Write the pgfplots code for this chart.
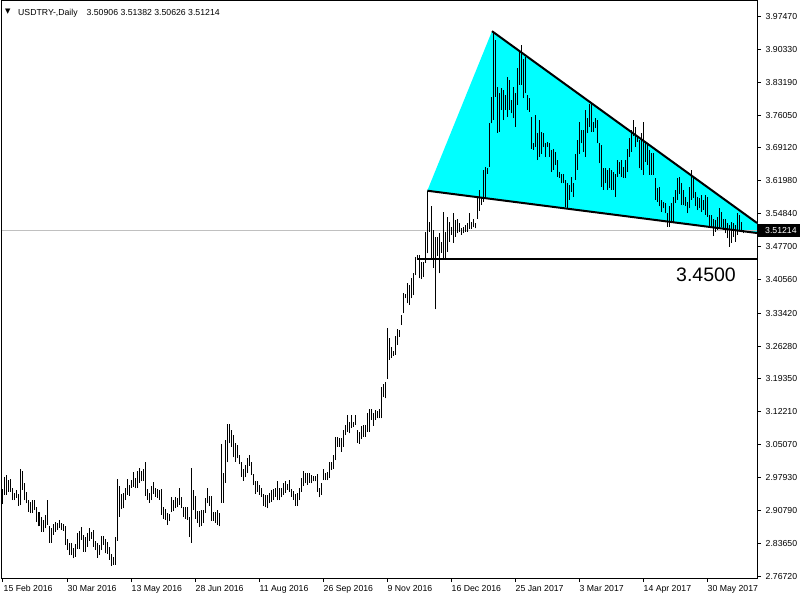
\documentclass[border=0pt]{standalone}
\usepackage{pgfplots}
\pgfplotsset{compat=1.18}
\usepackage{pgfplotstable}
\usepackage{fontspec}
\setmainfont{Liberation Sans}
\newfontfamily\dejavu{DejaVu Sans}
\definecolor{tri}{HTML}{00FFFF}
\definecolor{bidline}{HTML}{C0C0C0}

\pgfplotstableread{
i l h
0 2.922 2.954
1 2.942 2.980
2 2.942 2.984
3 2.949 2.974
4 2.949 2.976
5 2.931 2.958
6 2.931 2.947
7 2.935 2.953
8 2.918 2.943
9 2.920 2.999
10 2.953 2.994
11 2.931 2.967
12 2.924 2.948
13 2.906 2.932
14 2.902 2.927
15 2.904 2.931
16 2.909 2.931
17 2.884 2.917
18 2.874 2.906
19 2.863 2.894
20 2.863 2.888
21 2.870 2.899
22 2.877 2.931
23 2.839 2.875
24 2.839 2.870
25 2.856 2.879
26 2.863 2.884
27 2.866 2.881
28 2.870 2.889
29 2.866 2.882
30 2.865 2.879
31 2.834 2.876
32 2.823 2.846
33 2.812 2.839
34 2.812 2.838
35 2.805 2.827
36 2.809 2.836
37 2.825 2.859
38 2.825 2.864
39 2.845 2.872
40 2.820 2.856
41 2.820 2.852
42 2.830 2.859
43 2.843 2.870
44 2.848 2.863
45 2.830 2.866
46 2.823 2.843
47 2.807 2.839
48 2.812 2.834
49 2.823 2.853
50 2.834 2.853
51 2.816 2.848
52 2.815 2.841
53 2.802 2.830
54 2.789 2.815
55 2.791 2.809
56 2.791 2.852
57 2.843 2.976
58 2.895 2.961
59 2.911 2.945
60 2.913 2.947
61 2.931 2.958
62 2.942 2.976
63 2.940 2.963
64 2.958 2.974
65 2.960 2.992
66 2.956 2.978
67 2.958 2.994
68 2.968 3.001
69 2.971 2.994
70 2.973 2.998
71 2.940 3.013
72 2.932 2.954
73 2.925 2.947
74 2.931 2.961
75 2.944 2.969
76 2.938 2.958
77 2.935 2.955
78 2.932 2.953
79 2.899 2.954
80 2.891 2.915
81 2.889 2.911
82 2.877 2.902
83 2.886 2.901
84 2.906 2.937
85 2.907 2.932
86 2.913 2.937
87 2.915 2.935
88 2.920 2.956
89 2.913 2.938
90 2.894 2.915
91 2.891 2.915
92 2.888 2.915
93 2.851 2.894
94 2.839 3.001
95 2.909 2.953
96 2.891 2.940
97 2.882 2.907
98 2.872 2.907
99 2.875 2.909
100 2.881 2.909
101 2.904 2.935
102 2.924 2.956
103 2.918 2.940
104 2.886 2.940
105 2.886 2.906
106 2.882 2.906
107 2.877 2.909
108 2.874 2.902
109 2.925 3.052
110 2.925 2.989
111 2.968 3.060
112 3.012 3.096
113 3.053 3.095
114 3.046 3.082
115 3.023 3.071
116 3.014 3.053
117 3.021 3.050
118 3.008 3.028
119 2.981 3.012
120 2.973 2.997
121 2.980 3.007
122 2.989 3.021
123 3.005 3.028
124 2.985 3.014
125 2.963 2.987
126 2.945 2.971
127 2.949 2.972
128 2.942 2.963
129 2.938 2.956
130 2.918 2.945
131 2.915 2.942
132 2.913 2.942
133 2.924 2.947
134 2.927 2.953
135 2.931 2.954
136 2.938 2.958
137 2.931 2.971
138 2.931 2.956
139 2.937 2.958
140 2.942 2.967
141 2.947 2.971
142 2.953 2.965
143 2.949 2.974
144 2.938 2.954
145 2.932 2.951
146 2.918 2.945
147 2.918 2.947
148 2.931 2.958
149 2.949 2.978
150 2.961 2.994
151 2.967 2.990
152 2.963 2.990
153 2.968 2.990
154 2.967 2.985
155 2.971 2.983
156 2.971 2.983
157 2.949 2.987
158 2.937 2.958
159 2.942 2.968
160 2.974 2.999
161 2.974 2.989
162 2.974 2.992
163 2.978 3.012
164 2.996 3.014
165 2.999 3.028
166 3.017 3.068
167 3.046 3.068
168 3.046 3.064
169 3.035 3.064
170 3.046 3.081
171 3.071 3.093
172 3.078 3.114
173 3.075 3.100
174 3.086 3.114
175 3.089 3.100
176 3.093 3.114
177 3.055 3.083
178 3.052 3.078
179 3.062 3.091
180 3.068 3.093
181 3.068 3.093
182 3.078 3.118
183 3.078 3.127
184 3.104 3.127
185 3.091 3.118
186 3.104 3.125
187 3.107 3.124
188 3.107 3.127
189 3.107 3.175
190 3.154 3.181
191 3.150 3.186
192 3.193 3.303
193 3.233 3.280
194 3.237 3.262
195 3.242 3.253
196 3.244 3.285
197 3.265 3.299
198 3.283 3.298
199 3.308 3.330
200 3.334 3.378
201 3.366 3.375
202 3.355 3.398
203 3.352 3.395
204 3.366 3.409
205 3.373 3.420
206 3.416 3.456
207 3.449 3.459
208 3.409 3.459
209 3.407 3.445
210 3.413 3.445
211 3.443 3.510
212 3.463 3.598
213 3.510 3.531
214 3.452 3.564
215 3.431 3.513
216 3.342 3.499
217 3.457 3.499
218 3.420 3.506
219 3.464 3.488
220 3.452 3.553
221 3.452 3.510
222 3.466 3.542
223 3.488 3.531
224 3.503 3.520
225 3.486 3.551
226 3.499 3.535
227 3.506 3.536
228 3.510 3.529
229 3.503 3.518
230 3.506 3.520
231 3.510 3.524
232 3.510 3.529
233 3.515 3.551
234 3.515 3.531
235 3.519 3.536
236 3.517 3.529
237 3.538 3.585
238 3.555 3.600
239 3.567 3.585
240 3.574 3.643
241 3.585 3.650
242 3.635 3.646
243 3.650 3.743
244 3.743 3.801
245 3.750 3.941
246 3.801 3.923
247 3.722 3.822
248 3.725 3.808
249 3.772 3.819
250 3.750 3.815
251 3.772 3.804
252 3.758 3.844
253 3.772 3.837
254 3.765 3.794
255 3.754 3.822
256 3.736 3.808
257 3.783 3.862
258 3.826 3.898
259 3.826 3.912
260 3.797 3.883
261 3.808 3.887
262 3.772 3.804
263 3.768 3.797
264 3.689 3.758
265 3.686 3.700
266 3.693 3.761
267 3.664 3.722
268 3.671 3.750
269 3.678 3.725
270 3.693 3.722
271 3.671 3.700
272 3.693 3.704
273 3.671 3.700
274 3.639 3.686
275 3.643 3.689
276 3.653 3.682
277 3.628 3.664
278 3.625 3.639
279 3.614 3.635
280 3.614 3.635
281 3.563 3.621
282 3.560 3.614
283 3.578 3.610
284 3.596 3.628
285 3.585 3.614
286 3.621 3.678
287 3.643 3.707
288 3.678 3.747
289 3.700 3.729
290 3.682 3.729
291 3.671 3.772
292 3.722 3.754
293 3.736 3.786
294 3.725 3.786
295 3.725 3.747
296 3.733 3.754
297 3.700 3.750
298 3.657 3.700
299 3.607 3.697
300 3.600 3.646
301 3.614 3.646
302 3.600 3.643
303 3.603 3.646
304 3.600 3.643
305 3.600 3.639
306 3.585 3.635
307 3.628 3.664
308 3.635 3.661
309 3.628 3.664
310 3.625 3.650
311 3.625 3.664
312 3.639 3.689
313 3.671 3.711
314 3.682 3.729
315 3.715 3.750
316 3.693 3.736
317 3.704 3.715
318 3.646 3.707
319 3.643 3.722
320 3.632 3.747
321 3.661 3.704
322 3.653 3.700
323 3.632 3.686
324 3.632 3.679
325 3.632 3.679
326 3.578 3.625
327 3.574 3.603
328 3.564 3.607
329 3.553 3.578
330 3.560 3.574
331 3.549 3.571
332 3.520 3.549
333 3.520 3.564
334 3.531 3.571
335 3.531 3.585
336 3.571 3.600
337 3.578 3.625
338 3.592 3.628
339 3.567 3.614
340 3.567 3.600
341 3.564 3.585
342 3.549 3.574
343 3.560 3.607
344 3.578 3.643
345 3.582 3.625
346 3.564 3.596
347 3.556 3.585
348 3.560 3.582
349 3.553 3.589
350 3.556 3.578
351 3.546 3.589
352 3.542 3.585
353 3.520 3.546
354 3.517 3.546
355 3.500 3.538
356 3.510 3.535
357 3.513 3.542
358 3.517 3.560
359 3.520 3.553
360 3.513 3.538
361 3.506 3.538
362 3.495 3.528
363 3.477 3.524
364 3.485 3.531
365 3.499 3.528
366 3.488 3.524
367 3.503 3.549
368 3.513 3.546
369 3.513 3.531
370 3.506 3.514
}\bars

\begin{document}
\begin{tikzpicture}[x=1pt,y=1pt]
\useasboundingbox (0,0) rectangle (800,600);
\fill[white] (0,0) rectangle (800,600);
\begin{axis}[
  at={(2pt,22pt)}, anchor=south west, scale only axis,
  width=755pt, height=577pt,
  xmin=-0.5, xmax=377, ymin=2.7629, ymax=4.0071,
  axis line style={black, line width=1pt},
  xtick={0,32,64,96,128,160,192,224,256,288,320,352},
  xticklabels={15 Feb 2016,30 Mar 2016,13 May 2016,28 Jun 2016,11 Aug 2016,26 Sep 2016,9 Nov 2016,16 Dec 2016,25 Jan 2017,3 Mar 2017,14 Apr 2017,30 May 2017},
  ytick={3.97470,3.90330,3.83190,3.76050,3.69120,3.61980,3.54840,3.47700,3.40560,3.33420,3.26280,3.19350,3.12210,3.05070,2.97930,2.90790,2.83650,2.76720},
  yticklabels={3.97470,3.90330,3.83190,3.76050,3.69120,3.61980,3.54840,3.47700,3.40560,3.33420,3.26280,3.19350,3.12210,3.05070,2.97930,2.90790,2.83650,2.76720},
  xtick pos=bottom, ytick pos=right, yticklabel pos=right,
  tick align=outside, major tick length=4pt,
  tick style={black, line width=1pt},
  xticklabel style={anchor=north west, inner sep=0pt, xshift=0.5pt, yshift=-3pt, font=\fontsize{8.7}{10}\selectfont},
  yticklabel style={anchor=west, inner sep=0pt, xshift=4.5pt, font=\fontsize{8.7}{10}\selectfont},
  clip mode=individual,
]
\addplot[fill=tri, draw=none] coordinates {(212.15,3.598) (244.5,3.942) (377,3.5284) (377,3.5068)} --cycle;
\addplot[bidline, line width=1pt] coordinates {(-0.5,3.51214) (377,3.51214)};
\addplot[black, line width=1pt, quiver={u=0, v=\thisrow{h}-\thisrow{l}}] table[x=i, y=l] {\bars};
\addplot[black, line width=2pt] coordinates {(244.5,3.942) (377,3.5284)};
\addplot[black, line width=2pt] coordinates {(212.15,3.598) (377,3.5068)};
\addplot[black, line width=2pt] coordinates {(207,3.45) (377,3.45)};
\node[anchor=base east, inner sep=0pt, font=\fontsize{19.5}{22}\selectfont] at (axis cs:366.5,3.4033) {3.4500};
\node[anchor=west, fill=black, text=white, inner sep=0pt, minimum height=13pt, font=\fontsize{8.7}{10}\selectfont] at (axis cs:377,3.51214) {\hspace*{8pt}3.51214\hspace*{4pt}};
\end{axis}
\node[anchor=west, inner sep=0pt] at (5,588) {\dejavu\fontsize{7}{7}\selectfont ▼};
\node[anchor=base west, inner sep=0pt] at (18,584) {\fontsize{8.7}{10}\selectfont USDTRY-,Daily\hspace{9pt}3.50906 3.51382 3.50626 3.51214};
\end{tikzpicture}
\end{document}
